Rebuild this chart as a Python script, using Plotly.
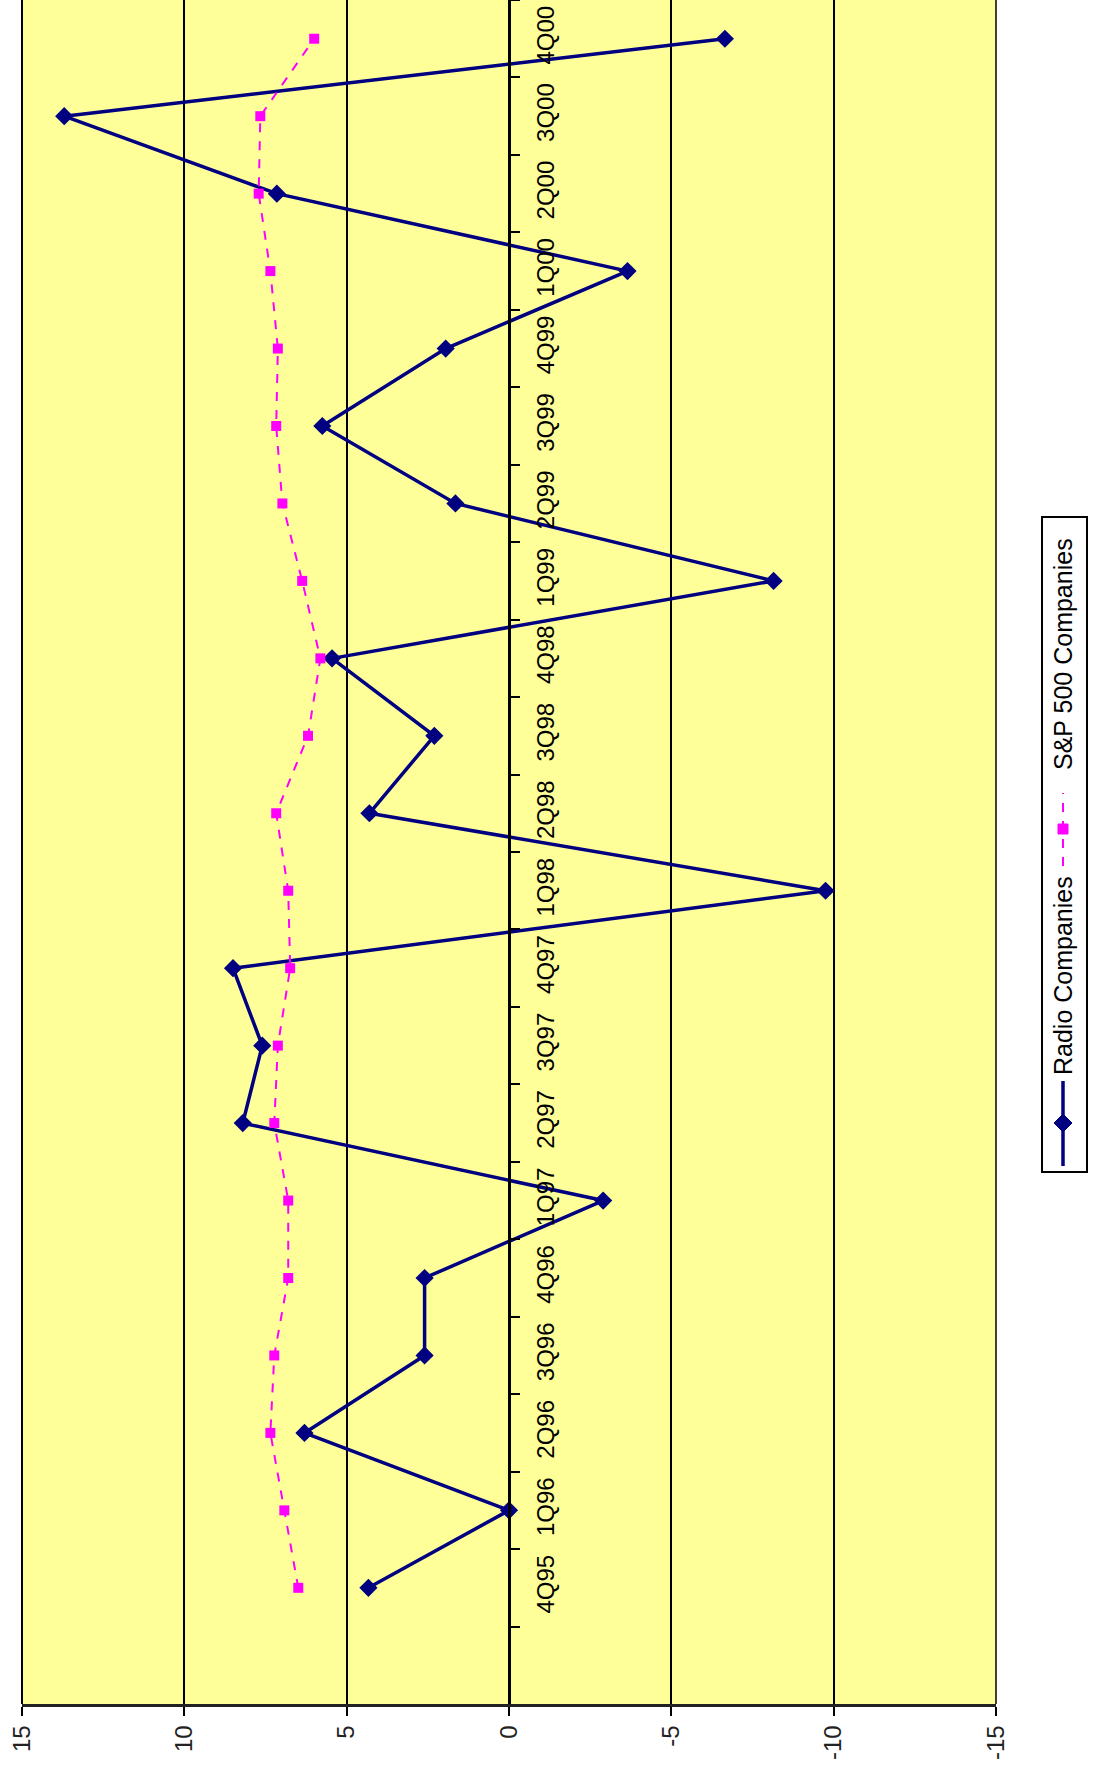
import plotly.graph_objects as go

quarters = ["4Q95", "1Q96", "2Q96", "3Q96", "4Q96", "1Q97", "2Q97", "3Q97", "4Q97",
            "1Q98", "2Q98", "3Q98", "4Q98", "1Q99", "2Q99", "3Q99", "4Q99",
            "1Q00", "2Q00", "3Q00", "4Q00"]
radio = [4.33, 0.0, 6.3, 2.6, 2.6, -2.9, 8.2, 7.6, 8.5, -9.75, 4.3, 2.3, 5.45,
         -8.15, 1.65, 5.75, 1.95, -3.65, 7.15, 13.7, -6.65]
sp500 = [6.49, 6.92, 7.35, 7.23, 6.8, 6.8, 7.23, 7.12, 6.74, 6.8, 7.17, 6.19, 5.81,
         6.37, 6.98, 7.17, 7.12, 7.35, 7.71, 7.66, 6.0]
value_ticks = [15, 10, 5, 0, -5, -10, -15]
value_tick_text = ["15", "10", "5", "0", "-5", "-10", "-15"]
series_names = ["Radio Companies", "S&P 500 Companies"]

W, H = 1096, 1775
ML, MR, MT, MB = 22, 100, 0, 71
PW, PH = W - ML - MR, H - MT - MB

def px(x):
    return (x - ML) / PW

def py(y):
    return (H - MB - y) / PH

NAVY = "#000080"
MAG = "#FF00FF"
FONT = "Liberation Sans, Arial, sans-serif"

fig = go.Figure()
fig.add_trace(go.Scatter(x=radio, y=quarters, mode="lines+markers", name=series_names[0],
                         line=dict(color=NAVY, width=3.5),
                         marker=dict(symbol="diamond", size=14, color=NAVY),
                         showlegend=False))
fig.add_trace(go.Scatter(x=sp500, y=quarters, mode="lines+markers", name=series_names[1],
                         line=dict(color=MAG, width=2, dash="dash"),
                         marker=dict(symbol="square", size=10, color=MAG),
                         showlegend=False))

shapes = []
# plot area borders
shapes.append(dict(type="line", xref="paper", yref="paper", x0=0, x1=0, y0=0, y1=1,
                   line=dict(color="black", width=2)))
shapes.append(dict(type="line", xref="paper", yref="paper", x0=1, x1=1, y0=0, y1=1,
                   line=dict(color="black", width=1.5)))

# legend box
lx = 1063
shapes.append(dict(type="rect", xref="paper", yref="paper",
                   x0=px(1042), x1=px(1087), y0=py(1172), y1=py(517),
                   line=dict(color="black", width=2), fillcolor="white", layer="below"))
# radio symbol
shapes.append(dict(type="line", xref="paper", yref="paper", x0=px(lx), x1=px(lx),
                   y0=py(1166), y1=py(1081), line=dict(color=NAVY, width=3.5)))
d = 9
cy = 1123
shapes.append(dict(type="path", xref="paper", yref="paper",
                   path=f"M {px(lx)} {py(cy-d)} L {px(lx+d)} {py(cy)} L {px(lx)} {py(cy+d)} L {px(lx-d)} {py(cy)} Z",
                   fillcolor=NAVY, line=dict(color=NAVY, width=1)))
# S&P symbol
shapes.append(dict(type="line", xref="paper", yref="paper", x0=px(lx), x1=px(lx),
                   y0=py(866), y1=py(793), line=dict(color=MAG, width=2, dash="dash")))
s = 5
cy2 = 829
shapes.append(dict(type="rect", xref="paper", yref="paper",
                   x0=px(lx - s), x1=px(lx + s), y0=py(cy2 + s), y1=py(cy2 - s),
                   fillcolor=MAG, line=dict(color=MAG, width=1)))

annotations = [
    dict(text=series_names[0], x=px(lx), y=py(976), xref="paper", yref="paper",
         showarrow=False, textangle=-90, xanchor="center", yanchor="middle",
         font=dict(family=FONT, size=25, color="black")),
    dict(text=series_names[1], x=px(lx), y=py(654), xref="paper", yref="paper",
         showarrow=False, textangle=-90, xanchor="center", yanchor="middle",
         font=dict(family=FONT, size=25, color="black")),
]

fig.update_layout(
    width=W, height=H,
    margin=dict(l=ML, r=MR, t=MT, b=MB, pad=0),
    paper_bgcolor="white",
    plot_bgcolor="#FFFF99",
    font=dict(family=FONT, size=24, color="black"),
    shapes=shapes,
    annotations=annotations,
    xaxis=dict(range=[15, -15], tickvals=value_ticks, ticktext=value_tick_text,
               tickangle=-90, ticks="outside", ticklen=9, tickwidth=1.5, tickcolor="black",
               showgrid=True, gridcolor="black", gridwidth=1.5, zeroline=False,
               showline=True, linecolor="#222222", linewidth=2.5,
               tickfont=dict(family=FONT, size=24, color="#222222")),
    yaxis=dict(type="category", categoryorder="array", categoryarray=quarters,
               range=[-1.5, 20.5], anchor="free", position=0.5, side="right",
               tickangle=-90, ticks="outside", ticklen=9, tickwidth=2, tickcolor="black",
               tickson="boundaries", showgrid=False, zeroline=False,
               showline=True, linecolor="black", linewidth=2.5, ticklabelstandoff=14,
               tickfont=dict(family=FONT, size=24, color="black")),
)

fig.write_html("out.html")
